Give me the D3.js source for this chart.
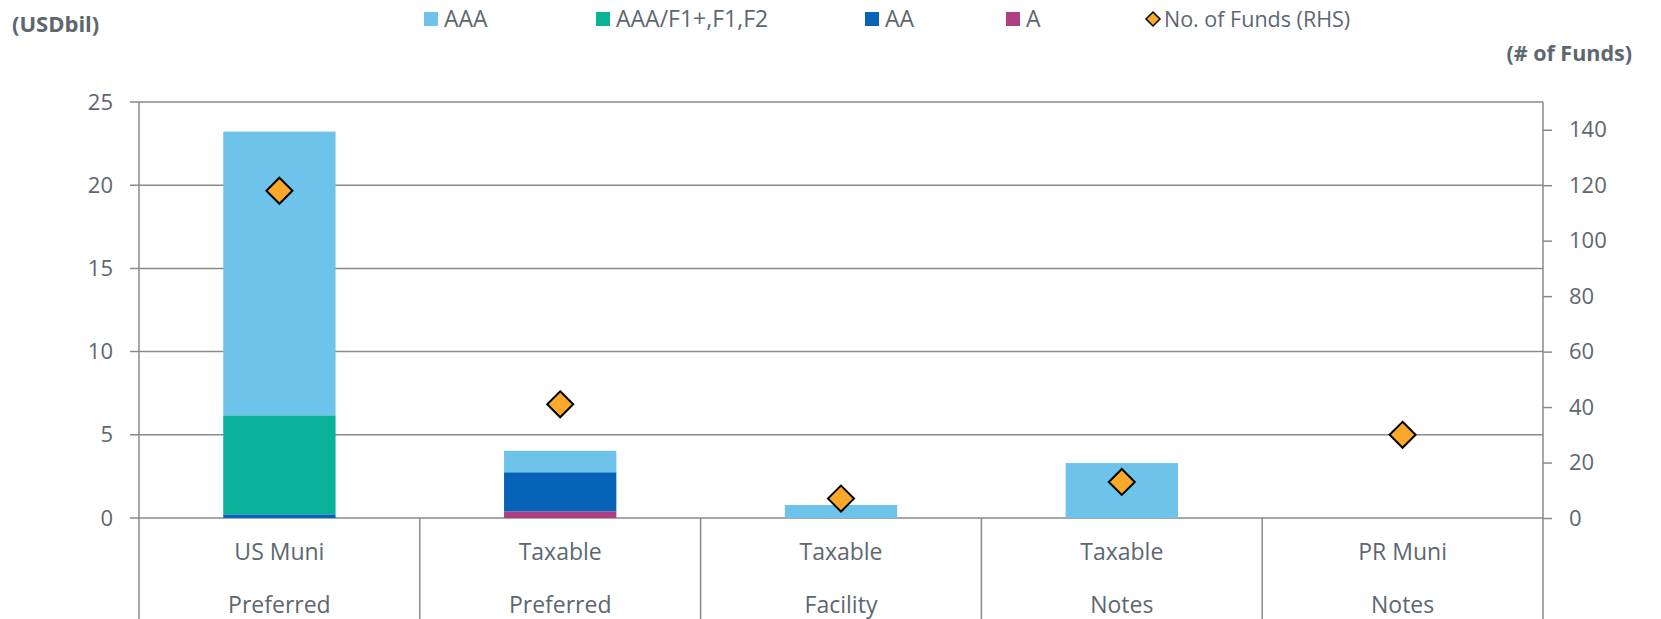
<!DOCTYPE html>
<html>
<head>
<meta charset="utf-8">
<script src="https://cdn.jsdelivr.net/npm/d3@7"></script>
<style>
  body { margin: 0; background: #fff; }
  svg text { font-family: "Open Sans", sans-serif; fill: #5c6770; }
</style>
</head>
<body>
<div id="chart"></div>
<script>
// categories (two-line labels)
const categoryTop = ["US Muni", "Taxable", "Taxable", "Taxable", "PR Muni"];
const categoryBottom = ["Preferred", "Preferred", "Facility", "Notes", "Notes"];
const categories = categoryTop.map((d, i) => d + " " + categoryBottom[i]);

// USD bil by rating
const aaa = [17.05, 1.29, 0.78, 3.3, 0];
const aaaF1 = [5.95, 0, 0, 0, 0];
const aa = [0.22, 2.35, 0, 0, 0];
const aRating = [0, 0.4, 0, 0, 0];

// number of funds (RHS)
const numFunds = [118, 41, 7, 13, 30];

const leftTicks = [0, 5, 10, 15, 20, 25];
const rightTicks = [0, 20, 40, 60, 80, 100, 120, 140];

const seriesNames = ["AAA", "AAA/F1+,F1,F2", "AA", "A"];
const seriesColors = ["#6ec3ea", "#0bb29a", "#0663b8", "#ad3f84"];
const fundsName = "No. of Funds (RHS)";

const width = 1661;
const height = 619;
const plotLeft = 139, plotRight = 1543, plotTop = 102, plotBottom = 518;
const lineColor = "#8a8a8a";

const svg = d3.select("#chart").append("svg")
  .attr("width", width)
  .attr("height", height);

const x = d3.scaleBand().domain(categories).range([plotLeft, plotRight]).padding(0);
const yL = d3.scaleLinear().domain([0, 25]).range([plotBottom, plotTop]);
const yR = d3.scaleLinear().domain([0, 150]).range([plotBottom, plotTop]);
const color = d3.scaleOrdinal().domain(seriesNames).range(seriesColors);

const table = categories.map((c, i) => ({
  cat: c,
  "AAA": aaa[i],
  "AAA/F1+,F1,F2": aaaF1[i],
  "AA": aa[i],
  "A": aRating[i]
}));

// gridlines
svg.append("g")
  .selectAll("line")
  .data(leftTicks)
  .enter()
  .append("line")
  .attr("x1", plotLeft - 9)
  .attr("x2", plotRight)
  .attr("y1", (d) => yL(d))
  .attr("y2", (d) => yL(d))
  .attr("stroke", lineColor)
  .attr("stroke-width", 1.5);

// stacked bars, bottom to top: A, AA, AAA/F1, AAA
const stack = d3.stack().keys(["A", "AA", "AAA/F1+,F1,F2", "AAA"]);
const barW = x.bandwidth() * 0.4;

svg.append("g")
  .selectAll("g")
  .data(stack(table))
  .enter()
  .append("g")
  .attr("fill", (d) => color(d.key))
  .selectAll("rect")
  .data((d) => d)
  .enter()
  .append("rect")
  .attr("x", (d) => x(d.data.cat) + (x.bandwidth() - barW) / 2)
  .attr("width", barW)
  .attr("y", (d) => yL(d[1]))
  .attr("height", (d) => yL(d[0]) - yL(d[1]));

// left axis
const leftAxis = svg.append("g")
  .attr("transform", `translate(${plotLeft},0)`)
  .call(d3.axisLeft(yL).tickValues(leftTicks).tickSize(9).tickPadding(17));
leftAxis.select(".domain").remove();
leftAxis.selectAll("line").remove();
leftAxis.selectAll("text").style("font-size", "22px");

// right axis
const rightAxis = svg.append("g")
  .attr("transform", `translate(${plotRight},0)`)
  .call(d3.axisRight(yR).tickValues(rightTicks).tickSize(9).tickPadding(17));
rightAxis.select(".domain").remove();
rightAxis.selectAll("line").attr("stroke", lineColor).attr("stroke-width", 1.5);
rightAxis.selectAll("text").style("font-size", "22px");

// frame verticals and category dividers
svg.append("g")
  .selectAll("line")
  .data([plotLeft, plotRight])
  .enter()
  .append("line")
  .attr("x1", (d) => d)
  .attr("x2", (d) => d)
  .attr("y1", plotTop)
  .attr("y2", height)
  .attr("stroke", lineColor)
  .attr("stroke-width", 1.5);

svg.append("g")
  .selectAll("line")
  .data(categories.slice(1))
  .enter()
  .append("line")
  .attr("x1", (d) => x(d))
  .attr("x2", (d) => x(d))
  .attr("y1", plotBottom)
  .attr("y2", height)
  .attr("stroke", lineColor)
  .attr("stroke-width", 1.5);

// category labels
const catLabels = svg.append("g")
  .selectAll("g")
  .data(categories)
  .enter()
  .append("g")
  .attr("transform", (d) => `translate(${x(d) + x.bandwidth() / 2},0)`)
  .attr("text-anchor", "middle")
  .style("font-size", "23px");
catLabels.append("text").attr("y", 560).text((d, i) => categoryTop[i]);
catLabels.append("text").attr("y", 613).text((d, i) => categoryBottom[i]);

// diamonds
const diamond = (r) => `M0,${-r}L${r},0L0,${r}L${-r},0Z`;
svg.append("g")
  .selectAll("path")
  .data(numFunds)
  .enter()
  .append("path")
  .attr("transform", (d, i) => `translate(${x(categories[i]) + x.bandwidth() / 2},${yR(d)})`)
  .attr("d", diamond(13))
  .attr("fill", "#fba82b")
  .attr("stroke", "#000")
  .attr("stroke-width", 2);

// axis titles
svg.append("text")
  .attr("x", 12)
  .attr("y", 32)
  .style("font-size", "22px")
  .style("font-weight", "bold")
  .text("(USDbil)");

svg.append("text")
  .attr("x", 1632)
  .attr("y", 61)
  .attr("text-anchor", "end")
  .style("font-size", "21.5px")
  .style("font-weight", "bold")
  .text("(# of Funds)");

// legend
const legend = svg.append("g").attr("id", "legend");
const legendX = [424, 596, 865, 1006, 1145];
const items = seriesNames.map((n) => ({ name: n, type: "rect" }))
  .concat([{ name: fundsName, type: "diamond" }]);
items.forEach((item, i) => {
  const g = legend.append("g").attr("transform", `translate(${legendX[i]},0)`);
  if (item.type === "rect") {
    g.append("rect")
      .attr("x", 0)
      .attr("y", 12)
      .attr("width", 14)
      .attr("height", 14)
      .attr("fill", color(item.name));
  } else {
    g.append("path")
      .attr("transform", "translate(8,19)")
      .attr("d", diamond(7))
      .attr("fill", "#fba82b")
      .attr("stroke", "#000")
      .attr("stroke-width", 1.5);
  }
  g.append("text")
    .attr("x", item.type === "rect" ? 20 : 19)
    .attr("y", 27)
    .style("font-size", item.type === "rect" ? "23px" : "21.5px")
    .text(item.name);
});
</script>
</body>
</html>
